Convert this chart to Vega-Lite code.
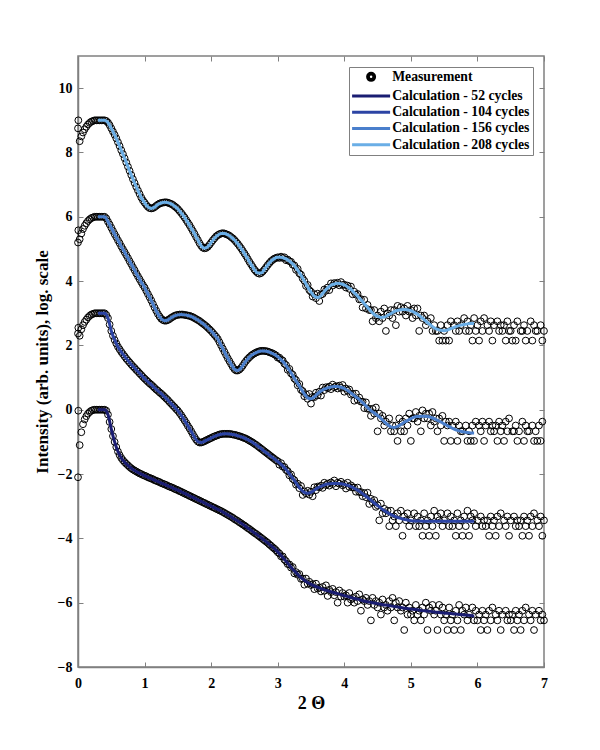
{
"$schema":"https://vega.github.io/schema/vega-lite/v6.json",
"width":466,"height":611,
"autosize":{"type":"none"},
"padding":{"left":78,"top":56,"right":56,"bottom":83},
"background":"white",
"config":{"view":{"stroke":"#808080","strokeWidth":1.5},"font":"Liberation Serif"},
"resolve":{"axis":{"x":"independent","y":"independent"}},
"datasets":{
"names":[{"k":"a","s":"Calculation - 208 cycles"},{"k":"b","s":"Calculation - 156 cycles"},{"k":"c","s":"Calculation - 104 cycles"},{"k":"d","s":"Calculation - 52 cycles"}],
"meas":[
{"x":0,"a":8.75,"b":5.2,"c":2.37,"d":-2.1},
{"x":0.005,"a":9.0,"b":5.58,"c":2.55,"d":-0.03},
{"x":0.025,"a":8.35,"b":5.3,"c":2.3,"d":-1.1},
{"x":0.05,"a":8.5,"b":5.48,"c":2.5,"d":-0.7},
{"x":0.075,"a":8.62,"b":5.62,"c":2.63,"d":-0.45},
{"x":0.1,"a":8.72,"b":5.72,"c":2.73,"d":-0.3},
{"x":0.125,"a":8.8,"b":5.8,"c":2.8,"d":-0.2},
{"x":0.15,"a":8.87,"b":5.87,"c":2.87,"d":-0.12},
{"x":0.175,"a":8.92,"b":5.92,"c":2.92,"d":-0.07},
{"x":0.2,"a":8.96,"b":5.96,"c":2.96,"d":-0.03},
{"x":0.225,"a":8.98,"b":5.98,"c":2.98,"d":-0.01},
{"x":0.25,"a":9,"b":6,"c":3,"d":0},
{"x":0.275,"a":9,"b":6,"c":3,"d":0},
{"x":0.3,"a":9,"b":6,"c":3,"d":0},
{"x":0.325,"a":9,"b":6,"c":3,"d":0},
{"x":0.35,"a":9,"b":6,"c":3,"d":0},
{"x":0.375,"a":9,"b":6,"c":3,"d":0},
{"x":0.4,"a":9,"b":6,"c":3,"d":0},
{"x":0.425,"a":8.98,"b":5.95,"c":2.95,"d":-0.03},
{"x":0.45,"a":8.93,"b":5.85,"c":2.85,"d":-0.15},
{"x":0.475,"a":8.85,"b":5.76,"c":2.65,"d":-0.38},
{"x":0.5,"a":8.75,"b":5.66,"c":2.45,"d":-0.6},
{"x":0.525,"a":8.65,"b":5.56,"c":2.3,"d":-0.82},
{"x":0.55,"a":8.55,"b":5.46,"c":2.17,"d":-1.0},
{"x":0.575,"a":8.44,"b":5.37,"c":2.06,"d":-1.16},
{"x":0.6,"a":8.32,"b":5.27,"c":1.96,"d":-1.3},
{"x":0.625,"a":8.2,"b":5.18,"c":1.88,"d":-1.41},
{"x":0.65,"a":8.07,"b":5.08,"c":1.8,"d":-1.5},
{"x":0.675,"a":7.95,"b":4.99,"c":1.73,"d":-1.57},
{"x":0.7,"a":7.82,"b":4.9,"c":1.66,"d":-1.63},
{"x":0.725,"a":7.69,"b":4.81,"c":1.59,"d":-1.68},
{"x":0.75,"a":7.56,"b":4.72,"c":1.53,"d":-1.73},
{"x":0.775,"a":7.43,"b":4.62,"c":1.47,"d":-1.78},
{"x":0.8,"a":7.3,"b":4.53,"c":1.41,"d":-1.82},
{"x":0.825,"a":7.17,"b":4.43,"c":1.35,"d":-1.86},
{"x":0.85,"a":7.05,"b":4.34,"c":1.3,"d":-1.89},
{"x":0.875,"a":6.93,"b":4.24,"c":1.24,"d":-1.92},
{"x":0.9,"a":6.82,"b":4.15,"c":1.19,"d":-1.95},
{"x":0.925,"a":6.71,"b":4.06,"c":1.13,"d":-1.98},
{"x":0.95,"a":6.6,"b":3.97,"c":1.08,"d":-2.0},
{"x":0.975,"a":6.51,"b":3.88,"c":1.02,"d":-2.03},
{"x":1.0,"a":6.44,"b":3.8,"c":0.97,"d":-2.05},
{"x":1.025,"a":6.37,"b":3.7,"c":0.92,"d":-2.07},
{"x":1.05,"a":6.31,"b":3.6,"c":0.87,"d":-2.1},
{"x":1.075,"a":6.27,"b":3.5,"c":0.82,"d":-2.12},
{"x":1.1,"a":6.26,"b":3.4,"c":0.78,"d":-2.14},
{"x":1.125,"a":6.27,"b":3.29,"c":0.73,"d":-2.16},
{"x":1.15,"a":6.3,"b":3.18,"c":0.68,"d":-2.19},
{"x":1.175,"a":6.34,"b":3.08,"c":0.63,"d":-2.21},
{"x":1.2,"a":6.38,"b":2.98,"c":0.59,"d":-2.23},
{"x":1.225,"a":6.41,"b":2.9,"c":0.54,"d":-2.25},
{"x":1.25,"a":6.43,"b":2.83,"c":0.5,"d":-2.28},
{"x":1.275,"a":6.44,"b":2.79,"c":0.45,"d":-2.3},
{"x":1.3,"a":6.45,"b":2.77,"c":0.4,"d":-2.32},
{"x":1.325,"a":6.45,"b":2.77,"c":0.35,"d":-2.34},
{"x":1.35,"a":6.44,"b":2.79,"c":0.3,"d":-2.37},
{"x":1.375,"a":6.42,"b":2.82,"c":0.24,"d":-2.39},
{"x":1.4,"a":6.4,"b":2.86,"c":0.19,"d":-2.41},
{"x":1.425,"a":6.37,"b":2.89,"c":0.13,"d":-2.43},
{"x":1.45,"a":6.33,"b":2.92,"c":0.08,"d":-2.46},
{"x":1.475,"a":6.29,"b":2.94,"c":0.02,"d":-2.48},
{"x":1.5,"a":6.24,"b":2.95,"c":-0.03,"d":-2.5},
{"x":1.525,"a":6.18,"b":2.96,"c":-0.1,"d":-2.53},
{"x":1.55,"a":6.12,"b":2.96,"c":-0.17,"d":-2.55},
{"x":1.575,"a":6.05,"b":2.96,"c":-0.25,"d":-2.58},
{"x":1.6,"a":5.98,"b":2.95,"c":-0.33,"d":-2.6},
{"x":1.625,"a":5.9,"b":2.94,"c":-0.41,"d":-2.63},
{"x":1.65,"a":5.82,"b":2.93,"c":-0.5,"d":-2.65},
{"x":1.675,"a":5.74,"b":2.92,"c":-0.58,"d":-2.68},
{"x":1.7,"a":5.65,"b":2.9,"c":-0.67,"d":-2.7},
{"x":1.725,"a":5.56,"b":2.88,"c":-0.76,"d":-2.73},
{"x":1.75,"a":5.47,"b":2.85,"c":-0.85,"d":-2.75},
{"x":1.775,"a":5.37,"b":2.82,"c":-0.93,"d":-2.78},
{"x":1.8,"a":5.28,"b":2.79,"c":-0.99,"d":-2.8},
{"x":1.825,"a":5.18,"b":2.76,"c":-1.02,"d":-2.83},
{"x":1.85,"a":5.1,"b":2.72,"c":-1.02,"d":-2.85},
{"x":1.875,"a":5.04,"b":2.68,"c":-1.0,"d":-2.88},
{"x":1.9,"a":5.02,"b":2.64,"c":-0.98,"d":-2.9},
{"x":1.925,"a":5.03,"b":2.6,"c":-0.95,"d":-2.93},
{"x":1.95,"a":5.07,"b":2.55,"c":-0.93,"d":-2.95},
{"x":1.975,"a":5.13,"b":2.5,"c":-0.9,"d":-2.98},
{"x":2.0,"a":5.2,"b":2.45,"c":-0.88,"d":-3.0},
{"x":2.025,"a":5.27,"b":2.39,"c":-0.85,"d":-3.03},
{"x":2.05,"a":5.33,"b":2.33,"c":-0.83,"d":-3.05},
{"x":2.075,"a":5.39,"b":2.27,"c":-0.81,"d":-3.08},
{"x":2.1,"a":5.43,"b":2.2,"c":-0.79,"d":-3.1},
{"x":2.125,"a":5.46,"b":2.1,"c":-0.77,"d":-3.13},
{"x":2.15,"a":5.48,"b":2.0,"c":-0.76,"d":-3.15},
{"x":2.175,"a":5.49,"b":1.9,"c":-0.75,"d":-3.18},
{"x":2.2,"a":5.48,"b":1.8,"c":-0.75,"d":-3.21},
{"x":2.225,"a":5.46,"b":1.7,"c":-0.75,"d":-3.24},
{"x":2.25,"a":5.44,"b":1.6,"c":-0.75,"d":-3.27},
{"x":2.275,"a":5.41,"b":1.51,"c":-0.75,"d":-3.3},
{"x":2.3,"a":5.37,"b":1.42,"c":-0.76,"d":-3.33},
{"x":2.325,"a":5.33,"b":1.33,"c":-0.77,"d":-3.36},
{"x":2.35,"a":5.28,"b":1.26,"c":-0.78,"d":-3.4},
{"x":2.375,"a":5.22,"b":1.22,"c":-0.79,"d":-3.43},
{"x":2.4,"a":5.16,"b":1.22,"c":-0.81,"d":-3.46},
{"x":2.425,"a":5.09,"b":1.25,"c":-0.82,"d":-3.5},
{"x":2.45,"a":5.02,"b":1.3,"c":-0.84,"d":-3.53},
{"x":2.475,"a":4.94,"b":1.37,"c":-0.86,"d":-3.57},
{"x":2.5,"a":4.86,"b":1.45,"c":-0.88,"d":-3.6},
{"x":2.525,"a":4.78,"b":1.52,"c":-0.9,"d":-3.64},
{"x":2.55,"a":4.69,"b":1.58,"c":-0.93,"d":-3.68},
{"x":2.575,"a":4.6,"b":1.63,"c":-0.96,"d":-3.71},
{"x":2.6,"a":4.52,"b":1.68,"c":-0.99,"d":-3.75},
{"x":2.625,"a":4.44,"b":1.72,"c":-1.02,"d":-3.79},
{"x":2.65,"a":4.36,"b":1.75,"c":-1.06,"d":-3.83},
{"x":2.675,"a":4.3,"b":1.78,"c":-1.09,"d":-3.86},
{"x":2.7,"a":4.25,"b":1.8,"c":-1.13,"d":-3.9},
{"x":2.725,"a":4.23,"b":1.82,"c":-1.17,"d":-3.94},
{"x":2.75,"a":4.25,"b":1.83,"c":-1.21,"d":-3.98},
{"x":2.775,"a":4.3,"b":1.83,"c":-1.25,"d":-4.02},
{"x":2.8,"a":4.36,"b":1.83,"c":-1.29,"d":-4.06},
{"x":2.825,"a":4.43,"b":1.82,"c":-1.33,"d":-4.1},
{"x":2.85,"a":4.5,"b":1.81,"c":-1.37,"d":-4.14},
{"x":2.875,"a":4.56,"b":1.79,"c":-1.41,"d":-4.19},
{"x":2.9,"a":4.62,"b":1.77,"c":-1.45,"d":-4.23},
{"x":2.925,"a":4.66,"b":1.75,"c":-1.49,"d":-4.28},
{"x":2.95,"a":4.7,"b":1.72,"c":-1.53,"d":-4.32},
{"x":2.975,"a":4.72,"b":1.69,"c":-1.57,"d":-4.37},
{"x":3.0,"a":4.74,"b":1.62,"c":-1.6,"d":-4.43},
{"x":3.025,"a":4.72,"b":1.62,"c":-1.71,"d":-4.47},
{"x":3.05,"a":4.76,"b":1.56,"c":-1.66,"d":-4.56},
{"x":3.075,"a":4.72,"b":1.53,"c":-1.77,"d":-4.56},
{"x":3.1,"a":4.74,"b":1.43,"c":-1.78,"d":-4.66},
{"x":3.125,"a":4.65,"b":1.39,"c":-1.87,"d":-4.71},
{"x":3.15,"a":4.67,"b":1.24,"c":-1.91,"d":-4.8},
{"x":3.175,"a":4.62,"b":1.27,"c":-2.04,"d":-4.81},
{"x":3.2,"a":4.6,"b":1.13,"c":-2.01,"d":-4.91},
{"x":3.225,"a":4.51,"b":1.09,"c":-2.15,"d":-4.89},
{"x":3.25,"a":4.49,"b":0.97,"c":-2.19,"d":-5.09},
{"x":3.275,"a":4.35,"b":0.92,"c":-2.33,"d":-5.05},
{"x":3.3,"a":4.38,"b":0.76,"c":-2.3,"d":-5.13},
{"x":3.325,"a":4.24,"b":0.8,"c":-2.44,"d":-5.11},
{"x":3.35,"a":4.2,"b":0.62,"c":-2.37,"d":-5.26},
{"x":3.375,"a":4.08,"b":0.58,"c":-2.65,"d":-5.25},
{"x":3.4,"a":4.01,"b":0.42,"c":-2.54,"d":-5.44},
{"x":3.425,"a":3.85,"b":0.48,"c":-2.6,"d":-5.25},
{"x":3.45,"a":3.88,"b":0.34,"c":-2.52,"d":-5.41},
{"x":3.475,"a":3.72,"b":0.49,"c":-2.64,"d":-5.35},
{"x":3.5,"a":3.67,"b":0.19,"c":-2.55,"d":-5.45},
{"x":3.525,"a":3.52,"b":0.4,"c":-2.69,"d":-5.42},
{"x":3.55,"a":3.59,"b":0.39,"c":-2.41,"d":-5.58},
{"x":3.575,"a":3.47,"b":0.53,"c":-2.5,"d":-5.41},
{"x":3.6,"a":3.61,"b":0.45,"c":-2.39,"d":-5.56},
{"x":3.625,"a":3.38,"b":0.56,"c":-2.41,"d":-5.53},
{"x":3.65,"a":3.58,"b":0.44,"c":-2.36,"d":-5.65},
{"x":3.675,"a":3.6,"b":0.69,"c":-2.43,"d":-5.51},
{"x":3.7,"a":3.74,"b":0.61,"c":-2.27,"d":-5.63},
{"x":3.725,"a":3.7,"b":0.7,"c":-2.34,"d":-5.46},
{"x":3.75,"a":3.8,"b":0.67,"c":-2.3,"d":-5.79},
{"x":3.775,"a":3.72,"b":0.72,"c":-2.36,"d":-5.6},
{"x":3.8,"a":3.93,"b":0.64,"c":-2.26,"d":-5.67},
{"x":3.825,"a":3.86,"b":0.78,"c":-2.31,"d":-5.57},
{"x":3.85,"a":3.94,"b":0.7,"c":-2.2,"d":-5.77},
{"x":3.875,"a":3.91,"b":0.73,"c":-2.38,"d":-5.67},
{"x":3.9,"a":3.95,"b":0.66,"c":-2.27,"d":-6.0},
{"x":3.925,"a":3.87,"b":0.75,"c":-2.3,"d":-5.62},
{"x":3.95,"a":3.97,"b":0.68,"c":-2.24,"d":-5.81},
{"x":3.975,"a":3.88,"b":0.77,"c":-2.35,"d":-5.7},
{"x":4.0,"a":3.89,"b":0.56,"c":-2.31,"d":-5.81},
{"x":4.025,"a":3.8,"b":0.66,"c":-2.45,"d":-5.77},
{"x":4.05,"a":3.86,"b":0.59,"c":-2.27,"d":-6.0},
{"x":4.075,"a":3.76,"b":0.63,"c":-2.4,"d":-5.7},
{"x":4.1,"a":3.83,"b":0.47,"c":-2.35,"d":-5.9},
{"x":4.125,"a":3.59,"b":0.5,"c":-2.42,"d":-5.85},
{"x":4.15,"a":3.67,"b":0.28,"c":-2.42,"d":-6.0},
{"x":4.175,"a":3.58,"b":0.5,"c":-2.55,"d":-5.81},
{"x":4.2,"a":3.6,"b":0.31,"c":-2.42,"d":-5.95},
{"x":4.225,"a":3.43,"b":0.38,"c":-2.56,"d":-5.74},
{"x":4.25,"a":3.44,"b":0.25,"c":-2.56,"d":-6.25},
{"x":4.275,"a":3.18,"b":0.25,"c":-2.69,"d":-5.9},
{"x":4.3,"a":3.42,"b":0.05,"c":-2.59,"d":-5.95},
{"x":4.325,"a":3.15,"b":0.23,"c":-2.72,"d":-5.85},
{"x":4.35,"a":3.26,"b":0.03,"c":-2.58,"d":-6.07},
{"x":4.375,"a":3.1,"b":0.03,"c":-2.93,"d":-5.95},
{"x":4.4,"a":3.1,"b":-0.19,"c":-2.77,"d":-6.55},
{"x":4.425,"a":2.75,"b":0.03,"c":-2.88,"d":-5.85},
{"x":4.45,"a":3.1,"b":-0.12,"c":-2.81,"d":-6.07},
{"x":4.475,"a":2.85,"b":0.07,"c":-3.02,"d":-5.95},
{"x":4.5,"a":2.93,"b":-0.67,"c":-2.97,"d":-6.15},
{"x":4.525,"a":2.75,"b":-0.12,"c":-3.44,"d":-6.0},
{"x":4.55,"a":3.05,"b":-0.27,"c":-2.92,"d":-6.37},
{"x":4.575,"a":2.85,"b":-0.19,"c":-3.22,"d":-5.9},
{"x":4.6,"a":3.15,"b":-0.49,"c":-3.08,"d":-6.15},
{"x":4.625,"a":2.45,"b":-0.37,"c":-3.22,"d":-6.07},
{"x":4.65,"a":3.0,"b":null,"c":-3.14,"d":-6.25},
{"x":4.675,"a":2.93,"b":-0.27,"c":-3.62,"d":-5.95},
{"x":4.7,"a":3.1,"b":-0.67,"c":-3.14,"d":-6.15},
{"x":4.725,"a":2.85,"b":-0.49,"c":-3.44,"d":-5.85},
{"x":4.75,"a":3.1,"b":-0.67,"c":-3.32,"d":-6.55},
{"x":4.775,"a":2.63,"b":-0.49,"c":-3.62,"d":-6.0},
{"x":4.8,"a":3.23,"b":-0.97,"c":-3.22,"d":-6.15},
{"x":4.825,"a":3.05,"b":-0.27,"c":-3.44,"d":-5.95},
{"x":4.85,"a":3.19,"b":-0.67,"c":-3.14,"d":-6.25},
{"x":4.875,"a":3.05,"b":-0.37,"c":-3.92,"d":-6.15},
{"x":4.9,"a":3.15,"b":-0.67,"c":-3.32,"d":-6.85},
{"x":4.925,"a":2.93,"b":-0.27,"c":-3.44,"d":-6.0},
{"x":4.95,"a":3.23,"b":-0.49,"c":-3.22,"d":-6.37},
{"x":4.975,"a":3.05,"b":-0.12,"c":-3.62,"d":-6.15},
{"x":5.0,"a":3.1,"b":-0.97,"c":-3.44,"d":-6.37},
{"x":5.025,"a":2.85,"b":-0.27,"c":null,"d":-6.25},
{"x":5.05,"a":3.15,"b":-0.27,"c":-3.22,"d":-6.55},
{"x":5.075,"a":2.93,"b":-0.07,"c":-3.62,"d":-6.07},
{"x":5.1,"a":3.15,"b":-0.37,"c":-3.32,"d":-6.37},
{"x":5.125,"a":2.45,"b":-0.19,"c":-3.62,"d":-6.25},
{"x":5.15,"a":2.93,"b":-0.67,"c":-3.44,"d":-6.55},
{"x":5.175,"a":2.85,"b":-0.02,"c":-3.92,"d":-6.15},
{"x":5.2,"a":2.93,"b":-0.27,"c":-3.22,"d":-6.37},
{"x":5.225,"a":2.63,"b":-0.12,"c":-3.62,"d":-6.0},
{"x":5.25,"a":2.75,"b":-0.27,"c":-3.44,"d":-6.85},
{"x":5.275,"a":null,"b":-0.12,"c":-3.92,"d":-6.15},
{"x":5.3,"a":2.85,"b":-0.49,"c":-3.32,"d":-6.25},
{"x":5.325,"a":2.45,"b":-0.07,"c":-3.62,"d":-6.07},
{"x":5.35,"a":2.63,"b":-0.37,"c":-3.14,"d":-6.37},
{"x":5.375,"a":2.45,"b":-0.27,"c":-3.92,"d":-6.25},
{"x":5.4,"a":2.45,"b":-0.67,"c":-3.32,"d":-6.85},
{"x":5.425,"a":2.15,"b":-0.27,"c":-3.44,"d":-6.07},
{"x":5.45,"a":2.63,"b":-0.49,"c":-3.22,"d":-6.37},
{"x":5.475,"a":2.15,"b":-0.19,"c":-3.62,"d":-6.15},
{"x":5.5,"a":2.45,"b":-0.97,"c":-3.44,"d":-6.55},
{"x":5.525,"a":2.15,"b":-0.37,"c":null,"d":-6.37},
{"x":5.55,"a":2.63,"b":-0.49,"c":-3.22,"d":-6.85},
{"x":5.575,"a":2.15,"b":-0.37,"c":-3.62,"d":-6.15},
{"x":5.6,"a":2.75,"b":-0.97,"c":-3.32,"d":-6.55},
{"x":5.625,"a":null,"b":-0.49,"c":-3.62,"d":-6.37},
{"x":5.65,"a":2.63,"b":null,"c":-3.44,"d":-6.85},
{"x":5.675,"a":2.45,"b":-0.37,"c":-3.92,"d":-6.25},
{"x":5.7,"a":2.75,"b":-0.97,"c":-3.22,"d":-6.55},
{"x":5.725,"a":2.45,"b":-0.49,"c":-3.62,"d":-6.07},
{"x":5.75,"a":2.63,"b":-0.67,"c":-3.44,"d":-6.85},
{"x":5.775,"a":null,"b":-0.67,"c":-3.92,"d":-6.25},
{"x":5.8,"a":2.85,"b":null,"c":-3.32,"d":-6.37},
{"x":5.825,"a":2.45,"b":-0.49,"c":-3.62,"d":-6.15},
{"x":5.85,"a":2.75,"b":-0.97,"c":-3.14,"d":-6.55},
{"x":5.875,"a":2.45,"b":-0.67,"c":-3.92,"d":-6.37},
{"x":5.9,"a":2.63,"b":-0.97,"c":-3.32,"d":null},
{"x":5.925,"a":2.15,"b":-0.49,"c":-3.44,"d":-6.15},
{"x":5.95,"a":2.85,"b":-0.97,"c":-3.22,"d":-6.55},
{"x":5.975,"a":2.45,"b":-0.37,"c":-3.62,"d":-6.25},
{"x":6.0,"a":2.63,"b":null,"c":-3.44,"d":-6.55},
{"x":6.025,"a":2.15,"b":-0.49,"c":null,"d":-6.37},
{"x":6.05,"a":2.75,"b":-0.67,"c":-3.32,"d":-6.85},
{"x":6.075,"a":2.45,"b":-0.37,"c":-3.62,"d":-6.25},
{"x":6.1,"a":2.85,"b":-0.97,"c":-3.44,"d":-6.55},
{"x":6.125,"a":null,"b":-0.49,"c":-3.62,"d":-6.37},
{"x":6.15,"a":2.63,"b":null,"c":-3.44,"d":-6.85},
{"x":6.175,"a":2.45,"b":-0.37,"c":-3.92,"d":-6.25},
{"x":6.2,"a":2.75,"b":-0.67,"c":-3.32,"d":-6.55},
{"x":6.225,"a":2.15,"b":-0.49,"c":-3.62,"d":-6.15},
{"x":6.25,"a":2.63,"b":-0.67,"c":-3.44,"d":null},
{"x":6.275,"a":null,"b":-0.49,"c":-3.92,"d":-6.37},
{"x":6.3,"a":2.75,"b":-0.97,"c":-3.32,"d":-6.55},
{"x":6.325,"a":2.45,"b":-0.37,"c":-3.62,"d":-6.25},
{"x":6.35,"a":2.63,"b":-0.67,"c":-3.22,"d":-6.85},
{"x":6.375,"a":2.45,"b":-0.49,"c":null,"d":-6.37},
{"x":6.4,"a":2.63,"b":-0.97,"c":-3.44,"d":null},
{"x":6.425,"a":2.15,"b":-0.37,"c":-3.62,"d":-6.25},
{"x":6.45,"a":2.75,"b":-0.67,"c":-3.32,"d":-6.55},
{"x":6.475,"a":2.45,"b":-0.27,"c":-3.92,"d":-6.37},
{"x":6.5,"a":2.45,"b":null,"c":-3.44,"d":-6.55},
{"x":6.525,"a":2.15,"b":-0.67,"c":null,"d":-6.37},
{"x":6.55,"a":2.63,"b":-0.67,"c":-3.32,"d":-6.85},
{"x":6.575,"a":2.15,"b":-0.49,"c":-3.62,"d":-6.25},
{"x":6.6,"a":2.75,"b":-0.97,"c":-3.44,"d":-6.55},
{"x":6.625,"a":null,"b":-0.67,"c":-3.62,"d":-6.37},
{"x":6.65,"a":2.45,"b":null,"c":-3.44,"d":-6.85},
{"x":6.675,"a":2.45,"b":-0.37,"c":-3.92,"d":-6.25},
{"x":6.7,"a":2.63,"b":-0.97,"c":-3.32,"d":-6.55},
{"x":6.725,"a":2.15,"b":-0.49,"c":-3.62,"d":-6.15},
{"x":6.75,"a":2.45,"b":-0.67,"c":-3.44,"d":null},
{"x":6.775,"a":null,"b":-0.67,"c":-3.92,"d":-6.37},
{"x":6.8,"a":2.75,"b":null,"c":-3.32,"d":-6.55},
{"x":6.825,"a":2.15,"b":-0.49,"c":-3.62,"d":-6.25},
{"x":6.85,"a":2.63,"b":-0.97,"c":-3.22,"d":-6.85},
{"x":6.875,"a":2.45,"b":-0.67,"c":null,"d":-6.37},
{"x":6.9,"a":2.45,"b":-0.97,"c":-3.44,"d":null},
{"x":6.925,"a":null,"b":-0.49,"c":-3.62,"d":-6.25},
{"x":6.95,"a":2.63,"b":-0.97,"c":-3.32,"d":-6.55},
{"x":6.975,"a":2.15,"b":-0.37,"c":-3.92,"d":-6.37},
{"x":7.0,"a":2.45,"b":null,"c":-3.44,"d":-6.55}
],
"calc":[
{"x":0.3,"a":9.0,"b":6.0,"c":3.0,"d":0},
{"x":0.35,"a":9.0,"b":6.0,"c":3.0,"d":0},
{"x":0.4,"a":9.0,"b":6.0,"c":3.0,"d":0},
{"x":0.45,"a":8.93,"b":5.85,"c":2.85,"d":-0.15},
{"x":0.5,"a":8.75,"b":5.66,"c":2.45,"d":-0.6},
{"x":0.55,"a":8.55,"b":5.46,"c":2.17,"d":-1.0},
{"x":0.6,"a":8.32,"b":5.27,"c":1.96,"d":-1.3},
{"x":0.65,"a":8.07,"b":5.08,"c":1.8,"d":-1.5},
{"x":0.7,"a":7.82,"b":4.9,"c":1.66,"d":-1.63},
{"x":0.75,"a":7.56,"b":4.72,"c":1.53,"d":-1.73},
{"x":0.8,"a":7.3,"b":4.53,"c":1.41,"d":-1.82},
{"x":0.85,"a":7.05,"b":4.34,"c":1.3,"d":-1.89},
{"x":0.9,"a":6.82,"b":4.15,"c":1.19,"d":-1.95},
{"x":0.95,"a":6.6,"b":3.97,"c":1.08,"d":-2.0},
{"x":1.0,"a":6.44,"b":3.8,"c":0.97,"d":-2.05},
{"x":1.05,"a":6.31,"b":3.6,"c":0.87,"d":-2.1},
{"x":1.1,"a":6.26,"b":3.4,"c":0.78,"d":-2.14},
{"x":1.15,"a":6.3,"b":3.18,"c":0.68,"d":-2.19},
{"x":1.2,"a":6.38,"b":2.98,"c":0.59,"d":-2.23},
{"x":1.25,"a":6.43,"b":2.83,"c":0.5,"d":-2.28},
{"x":1.3,"a":6.45,"b":2.77,"c":0.4,"d":-2.32},
{"x":1.35,"a":6.44,"b":2.79,"c":0.3,"d":-2.37},
{"x":1.4,"a":6.4,"b":2.86,"c":0.19,"d":-2.41},
{"x":1.45,"a":6.33,"b":2.92,"c":0.08,"d":-2.46},
{"x":1.5,"a":6.24,"b":2.95,"c":-0.03,"d":-2.5},
{"x":1.55,"a":6.12,"b":2.96,"c":-0.17,"d":-2.55},
{"x":1.6,"a":5.98,"b":2.95,"c":-0.33,"d":-2.6},
{"x":1.65,"a":5.82,"b":2.93,"c":-0.5,"d":-2.65},
{"x":1.7,"a":5.65,"b":2.9,"c":-0.67,"d":-2.7},
{"x":1.75,"a":5.47,"b":2.85,"c":-0.85,"d":-2.75},
{"x":1.8,"a":5.28,"b":2.79,"c":-0.99,"d":-2.8},
{"x":1.85,"a":5.1,"b":2.72,"c":-1.02,"d":-2.85},
{"x":1.9,"a":5.02,"b":2.64,"c":-0.98,"d":-2.9},
{"x":1.95,"a":5.07,"b":2.55,"c":-0.93,"d":-2.95},
{"x":2.0,"a":5.2,"b":2.45,"c":-0.88,"d":-3.0},
{"x":2.05,"a":5.33,"b":2.33,"c":-0.83,"d":-3.05},
{"x":2.1,"a":5.43,"b":2.2,"c":-0.79,"d":-3.1},
{"x":2.15,"a":5.48,"b":2.0,"c":-0.76,"d":-3.15},
{"x":2.2,"a":5.48,"b":1.8,"c":-0.75,"d":-3.21},
{"x":2.25,"a":5.44,"b":1.6,"c":-0.75,"d":-3.27},
{"x":2.3,"a":5.37,"b":1.42,"c":-0.76,"d":-3.33},
{"x":2.35,"a":5.28,"b":1.26,"c":-0.78,"d":-3.4},
{"x":2.4,"a":5.16,"b":1.22,"c":-0.81,"d":-3.46},
{"x":2.45,"a":5.02,"b":1.3,"c":-0.84,"d":-3.53},
{"x":2.5,"a":4.86,"b":1.45,"c":-0.88,"d":-3.6},
{"x":2.55,"a":4.69,"b":1.58,"c":-0.93,"d":-3.68},
{"x":2.6,"a":4.52,"b":1.68,"c":-0.99,"d":-3.75},
{"x":2.65,"a":4.36,"b":1.75,"c":-1.06,"d":-3.83},
{"x":2.7,"a":4.25,"b":1.8,"c":-1.13,"d":-3.9},
{"x":2.75,"a":4.25,"b":1.83,"c":-1.21,"d":-3.98},
{"x":2.8,"a":4.36,"b":1.83,"c":-1.29,"d":-4.06},
{"x":2.85,"a":4.5,"b":1.81,"c":-1.37,"d":-4.14},
{"x":2.9,"a":4.62,"b":1.77,"c":-1.45,"d":-4.23},
{"x":2.95,"a":4.7,"b":1.72,"c":-1.53,"d":-4.32},
{"x":3.0,"a":4.74,"b":1.65,"c":-1.61,"d":-4.42},
{"x":3.05,"a":4.74,"b":1.56,"c":-1.7,"d":-4.53},
{"x":3.1,"a":4.71,"b":1.45,"c":-1.8,"d":-4.65},
{"x":3.15,"a":4.66,"b":1.3,"c":-1.92,"d":-4.77},
{"x":3.2,"a":4.58,"b":1.15,"c":-2.06,"d":-4.9},
{"x":3.25,"a":4.48,"b":0.98,"c":-2.2,"d":-5.01},
{"x":3.3,"a":4.34,"b":0.82,"c":-2.35,"d":-5.12},
{"x":3.35,"a":4.18,"b":0.65,"c":-2.48,"d":-5.22},
{"x":3.4,"a":4.0,"b":0.49,"c":-2.57,"d":-5.3},
{"x":3.45,"a":3.82,"b":0.37,"c":-2.6,"d":-5.37},
{"x":3.5,"a":3.66,"b":0.34,"c":-2.57,"d":-5.43},
{"x":3.55,"a":3.53,"b":0.4,"c":-2.5,"d":-5.48},
{"x":3.6,"a":3.49,"b":0.5,"c":-2.43,"d":-5.52},
{"x":3.65,"a":3.55,"b":0.58,"c":-2.38,"d":-5.56},
{"x":3.7,"a":3.68,"b":0.64,"c":-2.34,"d":-5.6},
{"x":3.75,"a":3.79,"b":0.68,"c":-2.31,"d":-5.63},
{"x":3.8,"a":3.87,"b":0.71,"c":-2.3,"d":-5.66},
{"x":3.85,"a":3.91,"b":0.72,"c":-2.29,"d":-5.69},
{"x":3.9,"a":3.93,"b":0.72,"c":-2.29,"d":-5.72},
{"x":3.95,"a":3.92,"b":0.7,"c":-2.3,"d":-5.75},
{"x":4.0,"a":3.88,"b":0.66,"c":-2.32,"d":-5.78},
{"x":4.05,"a":3.82,"b":0.6,"c":-2.35,"d":-5.81},
{"x":4.1,"a":3.74,"b":0.52,"c":-2.39,"d":-5.84},
{"x":4.15,"a":3.64,"b":0.44,"c":-2.44,"d":-5.87},
{"x":4.2,"a":3.53,"b":0.36,"c":-2.5,"d":-5.89},
{"x":4.25,"a":3.42,"b":0.27,"c":-2.57,"d":-5.92},
{"x":4.3,"a":3.3,"b":0.17,"c":-2.65,"d":-5.95},
{"x":4.35,"a":3.18,"b":0.07,"c":-2.73,"d":-5.97},
{"x":4.4,"a":3.06,"b":-0.03,"c":-2.81,"d":-5.99},
{"x":4.45,"a":2.96,"b":-0.1,"c":-2.9,"d":-6.01},
{"x":4.5,"a":2.9,"b":-0.18,"c":-2.98,"d":-6.03},
{"x":4.55,"a":2.87,"b":-0.27,"c":-3.06,"d":-6.05},
{"x":4.6,"a":2.88,"b":-0.37,"c":-3.13,"d":-6.07},
{"x":4.65,"a":2.93,"b":-0.46,"c":-3.2,"d":-6.08},
{"x":4.7,"a":2.99,"b":-0.53,"c":-3.26,"d":-6.1},
{"x":4.75,"a":3.05,"b":-0.55,"c":-3.31,"d":-6.12},
{"x":4.8,"a":3.09,"b":-0.52,"c":-3.35,"d":-6.13},
{"x":4.85,"a":3.11,"b":-0.46,"c":-3.38,"d":-6.15},
{"x":4.9,"a":3.12,"b":-0.39,"c":-3.41,"d":-6.17},
{"x":4.95,"a":3.11,"b":-0.33,"c":-3.43,"d":-6.18},
{"x":5.0,"a":3.08,"b":-0.28,"c":-3.45,"d":-6.2},
{"x":5.05,"a":3.03,"b":-0.23,"c":-3.46,"d":-6.21},
{"x":5.1,"a":2.97,"b":-0.21,"c":-3.46,"d":-6.22},
{"x":5.15,"a":2.89,"b":-0.2,"c":-3.46,"d":-6.24},
{"x":5.2,"a":2.8,"b":-0.2,"c":-3.47,"d":-6.25},
{"x":5.25,"a":2.71,"b":-0.21,"c":-3.47,"d":-6.26},
{"x":5.3,"a":2.63,"b":-0.24,"c":-3.47,"d":-6.27},
{"x":5.35,"a":2.55,"b":-0.28,"c":-3.47,"d":-6.29},
{"x":5.4,"a":2.5,"b":-0.33,"c":-3.47,"d":-6.3},
{"x":5.45,"a":2.47,"b":-0.38,"c":-3.47,"d":-6.31},
{"x":5.5,"a":2.46,"b":-0.44,"c":-3.47,"d":-6.32},
{"x":5.55,"a":2.48,"b":-0.5,"c":-3.47,"d":-6.33},
{"x":5.6,"a":2.52,"b":-0.55,"c":-3.47,"d":-6.34},
{"x":5.65,"a":2.56,"b":-0.6,"c":-3.47,"d":-6.35},
{"x":5.7,"a":2.6,"b":-0.64,"c":-3.47,"d":-6.36},
{"x":5.75,"a":2.63,"b":-0.67,"c":-3.47,"d":-6.37},
{"x":5.8,"a":2.65,"b":-0.69,"c":-3.47,"d":-6.38},
{"x":5.85,"a":2.67,"b":-0.71,"c":-3.47,"d":-6.39},
{"x":5.9,"a":2.68,"b":-0.72,"c":-3.47,"d":-6.4},
{"x":5.95,"a":2.68,"b":-0.72,"c":-3.47,"d":-6.42}
]
},
"layer":[
{
"data":{"name":"meas"},
"transform":[{"fold":["a","b","c","d"],"as":["k","y"]},{"filter":"isValid(datum.y)"}],
"mark":{"type":"point","shape":"circle","filled":false,"strokeWidth":1,"size":46,"opacity":1},
"encoding":{
"x":{"field":"x","type":"quantitative","scale":{"domain":[0,7],"nice":false,"zero":false},
"axis":{"orient":"bottom","title":"2 Θ","values":[0,1,2,3,4,5,6,7],"format":"d","grid":false,"tickSize":-5,"tickColor":"#808080","tickWidth":1,"domainColor":"#808080","domainWidth":1.5,"labelPadding":14,"labelFont":"Liberation Serif","labelFontWeight":"bold","labelFontSize":14,"labelColor":"black","labelFlush":false,"titleFont":"Liberation Serif","titleFontWeight":"bold","titleFontSize":18,"titleColor":"black","titlePadding":4}},
"y":{"field":"y","type":"quantitative","scale":{"domain":[-8,11],"nice":false,"zero":false},
"axis":{"orient":"left","title":"Intensity (arb. units), log. scale","values":[-8,-6,-4,-2,0,2,4,6,8,10],"format":"d","grid":false,"tickSize":-5,"tickColor":"#808080","tickWidth":1,"domainColor":"#808080","domainWidth":1.5,"labelPadding":11,"labelFont":"Liberation Serif","labelFontWeight":"bold","labelFontSize":14,"labelColor":"black","titleFont":"Liberation Serif","titleFontWeight":"bold","titleFontSize":17,"titleColor":"black","titlePadding":6}},
"color":{"datum":"Measurement","type":"nominal","scale":{"domain":["Measurement","Calculation - 52 cycles","Calculation - 104 cycles","Calculation - 156 cycles","Calculation - 208 cycles"],"range":["black","#1a1d72","#2c44a4","#4a7fcc","#6aaee6"]},
"legend":{"title":null,"orient":"none","legendX":271,"legendY":11,"fillColor":"white","strokeColor":"#808080","padding":3,"rowPadding":1.2,"labelFont":"Liberation Serif","labelFontWeight":"bold","labelFontSize":13.7,"labelColor":"black","symbolSize":100,"symbolStrokeWidth":3,"labelOffset":26.5,
"encode":{"symbols":{"update":{"shape":{"signal":"datum.value === 'Measurement' ? 'M3.15,0A0.7,0.7,0,1,1,1.75,0A0.7,0.7,0,1,1,3.15,0ZM3.0,0A0.55,0.55,0,1,0,1.9,0A0.55,0.55,0,1,0,3.0,0Z' : 'M-1.35,0L6.25,0'"},"fill":{"signal":"datum.value === 'Measurement' ? 'black' : 'transparent'"},"stroke":{"signal":"datum.value === 'Measurement' ? 'transparent' : scale('color', datum.value)"}}}}}}
}
},
{
"data":{"name":"calc"},
"transform":[{"fold":["a","b","c","d"],"as":["k","y"]},{"lookup":"k","from":{"data":{"name":"names"},"key":"k","fields":["s"]}}],
"mark":{"type":"line","strokeWidth":3,"interpolate":"monotone"},
"encoding":{
"x":{"field":"x","type":"quantitative","axis":{"orient":"top","labels":false,"title":null,"domain":false,"values":[0,1,2,3,4,5,6,7],"grid":false,"tickSize":-5,"tickColor":"#808080","tickWidth":1}},
"y":{"field":"y","type":"quantitative","axis":{"orient":"right","labels":false,"title":null,"domain":false,"values":[-8,-6,-4,-2,0,2,4,6,8,10],"grid":false,"tickSize":-5,"tickColor":"#808080","tickWidth":1}},
"color":{"field":"s","type":"nominal","legend":{"title":null,"orient":"none","legendX":271,"legendY":11,"fillColor":"white","strokeColor":"#808080","padding":3,"rowPadding":1.2,"labelFont":"Liberation Serif","labelFontWeight":"bold","labelFontSize":13.7,"labelColor":"black","symbolSize":100,"symbolStrokeWidth":3,"labelOffset":26.5,
"encode":{"symbols":{"update":{"shape":{"signal":"datum.value === 'Measurement' ? 'M3.15,0A0.7,0.7,0,1,1,1.75,0A0.7,0.7,0,1,1,3.15,0ZM3.0,0A0.55,0.55,0,1,0,1.9,0A0.55,0.55,0,1,0,3.0,0Z' : 'M-1.35,0L6.25,0'"},"fill":{"signal":"datum.value === 'Measurement' ? 'black' : 'transparent'"},"stroke":{"signal":"datum.value === 'Measurement' ? 'transparent' : scale('color', datum.value)"}}}}}}
}
}
]
}
